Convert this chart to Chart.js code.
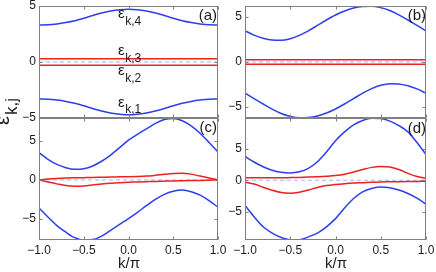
<!DOCTYPE html>
<html><head><meta charset="utf-8">
<script src="https://cdn.jsdelivr.net/npm/chart.js@4"></script>
<style>
html,body{margin:0;padding:0;background:#fff;width:436px;height:272px;overflow:hidden}
canvas{position:absolute;left:0;top:0}
</style></head>
<body>
<canvas id="ca" width="436" height="272"></canvas>
<canvas id="cb" width="436" height="272"></canvas>
<canvas id="cc" width="436" height="272"></canvas>
<canvas id="cd" width="436" height="272"></canvas>
<script>
// ---- data ----
const kValues = [-1.0,-0.9,-0.8,-0.7,-0.6,-0.5,-0.4,-0.3,-0.2,-0.1,0.0,0.1,0.2,0.3,0.4,0.5,0.6,0.7,0.8,0.9,1.0];
const xTicks = [-1,-0.5,0,0.5,1];
const xTickLabels = ['\u22121.0','\u22120.5','0.0','0.5','1.0'];
const yTicks = [-5,0,5];
const yTickLabels = ['\u22125','0','5'];
const panelLabels = ['(a)','(b)','(c)','(d)'];
const bandLabels = ['k,1','k,2','k,3','k,4'];

// panel (a)
const a_band4 = [3.3,3.32,3.4,3.52,3.68,3.9,4.15,4.38,4.55,4.67,4.72,4.67,4.55,4.38,4.15,3.9,3.68,3.52,3.4,3.32,3.3];
const a_band3 = [0.28,0.28,0.28,0.28,0.28,0.28,0.28,0.28,0.28,0.28,0.28,0.28,0.28,0.28,0.28,0.28,0.28,0.28,0.28,0.28,0.28];
const a_band2 = [-0.28,-0.28,-0.28,-0.28,-0.28,-0.28,-0.28,-0.28,-0.28,-0.28,-0.28,-0.28,-0.28,-0.28,-0.28,-0.28,-0.28,-0.28,-0.28,-0.28,-0.28];
const a_band1 = [-3.3,-3.32,-3.4,-3.52,-3.68,-3.9,-4.15,-4.38,-4.55,-4.67,-4.72,-4.67,-4.55,-4.38,-4.15,-3.9,-3.68,-3.52,-3.4,-3.32,-3.3];
// panel (b)
const b_band4 = [3.45,2.98,2.64,2.43,2.4,2.58,2.95,3.45,4.05,4.65,5.2,5.65,5.98,6.15,6.18,6.02,5.7,5.22,4.65,4.05,3.45];
const b_band3 = [0.25,0.25,0.25,0.25,0.25,0.25,0.25,0.25,0.25,0.25,0.25,0.25,0.25,0.25,0.25,0.25,0.25,0.25,0.25,0.25,0.25];
const b_band2 = [-0.25,-0.25,-0.25,-0.25,-0.25,-0.25,-0.25,-0.25,-0.25,-0.25,-0.25,-0.25,-0.25,-0.25,-0.25,-0.25,-0.25,-0.25,-0.25,-0.25,-0.25];
const b_band1 = [-3.45,-4.05,-4.65,-5.22,-5.7,-6.02,-6.18,-6.15,-5.98,-5.65,-5.2,-4.65,-4.05,-3.45,-2.95,-2.58,-2.4,-2.43,-2.64,-2.98,-3.45];
// panel (c)
const c_band4 = [3.5,2.65,2.0,1.58,1.38,1.45,1.8,2.4,3.2,4.15,5.1,5.85,6.55,7.25,7.75,7.9,7.6,6.95,6.0,4.8,3.6];
const c_band3 = [0.0,0.12,0.2,0.25,0.28,0.3,0.32,0.35,0.38,0.4,0.42,0.45,0.5,0.6,0.72,0.82,0.85,0.75,0.5,0.25,0.0];
const c_band2 = [0.0,-0.25,-0.5,-0.72,-0.8,-0.77,-0.65,-0.52,-0.42,-0.35,-0.3,-0.26,-0.22,-0.18,-0.15,-0.12,-0.1,-0.08,-0.06,-0.03,0.0];
const c_band1 = [-3.6,-4.75,-5.85,-6.7,-7.4,-7.7,-7.65,-7.2,-6.45,-5.7,-4.95,-4.15,-3.3,-2.5,-1.85,-1.45,-1.3,-1.5,-1.95,-2.65,-3.5];
// panel (d)
const d_band4 = [3.8,2.9,2.15,1.6,1.28,1.17,1.35,1.9,2.95,4.5,6.3,7.7,8.8,9.5,9.85,9.8,9.4,8.7,7.7,6.0,4.1];
const d_band3 = [0.38,0.38,0.38,0.4,0.4,0.42,0.45,0.5,0.56,0.64,0.75,0.95,1.3,1.7,2.05,2.2,2.1,1.7,1.1,0.6,0.3];
const d_band2 = [-0.3,-0.6,-1.1,-1.6,-1.95,-2.05,-1.9,-1.55,-1.15,-0.85,-0.68,-0.55,-0.45,-0.38,-0.3,-0.26,-0.24,-0.22,-0.2,-0.18,-0.16];
const d_band1 = [-4.0,-5.8,-7.4,-8.4,-9.1,-9.45,-9.45,-9.0,-8.4,-7.4,-6.1,-4.4,-2.9,-1.85,-1.3,-1.08,-1.2,-1.55,-2.1,-2.85,-3.8];

// ---- styles ----
const BLUE = 'rgb(45,62,238)';
const RED = 'rgb(238,32,32)';
const DASH = 'rgb(165,178,246)';
const FRAME = '#808080';
const TEXT = '#1a1a1a';
const FONT = "'Liberation Sans', Arial, sans-serif";
const YAXW = 30, XAXH = 20;

const panels = [
  {id:'ca', l:39, r:218, t:6, b:118, ymin:-5, ymax:5, bands:[a_band1,a_band2,a_band3,a_band4], label:0, showX:false, lx:217, ly:20},
  {id:'cb', l:245, r:426, t:6, b:118, ymin:-6.2, ymax:6.2, bands:[b_band1,b_band2,b_band3,b_band4], label:1, showX:false, lx:426, ly:20},
  {id:'cc', l:39, r:218, t:118, b:240, ymin:-7.7, ymax:7.95, bands:[c_band1,c_band2,c_band3,c_band4], label:2, showX:true, lx:217, ly:132},
  {id:'cd', l:245, r:426, t:118, b:240, ymin:-9.5, ymax:9.9, bands:[d_band1,d_band2,d_band3,d_band4], label:3, showX:true, lx:426, ly:133}
];

function toPts(arr){ return arr.map((v,i)=>({x:kValues[i], y:v})); }
function zeroPad(s){ s.paddingLeft=0; s.paddingRight=0; s.paddingTop=0; s.paddingBottom=0; }

const framePlugin = {
  id:'frame',
  afterDatasetsDraw(chart, args, opts){
    const {ctx, chartArea:a} = chart;
    const xs = chart.scales.x, ys = chart.scales.y;
    ctx.save();
    ctx.strokeStyle = FRAME; ctx.lineWidth = 1;
    const L=Math.round(a.left)+0.5, R=Math.round(a.right)-0.5, T=Math.round(a.top)+0.5, B=Math.round(a.bottom)-0.5;
    ctx.strokeRect(L, T, R-L, B-T);
    ctx.beginPath();
    xTicks.forEach(v=>{ const px=Math.round(xs.getPixelForValue(v))+0.5; ctx.moveTo(px,B); ctx.lineTo(px,B-3); ctx.moveTo(px,T); ctx.lineTo(px,T+3); });
    yTicks.forEach(v=>{ const py=Math.round(ys.getPixelForValue(v))+0.5; ctx.moveTo(L,py); ctx.lineTo(L+3,py); ctx.moveTo(R,py); ctx.lineTo(R-3,py); });
    ctx.stroke();
    const p = opts.panel;
    ctx.fillStyle = TEXT;
    ctx.font = '15px ' + FONT;
    ctx.textAlign = 'right'; ctx.textBaseline = 'alphabetic';
    ctx.fillText(panelLabels[p.label], p.lx, p.ly);
    ctx.restore();
  }
};

const textPlugin = {
  id:'texts',
  afterDraw(chart){
    const ctx = chart.ctx;
    ctx.save();
    ctx.fillStyle = TEXT;
    ctx.textAlign = 'left'; ctx.textBaseline = 'alphabetic';
    const pos = [[118,107,113],[118,75,82],[118,55,62],[118,18,25]];
    pos.forEach((p,i)=>{
      ctx.font = '15px ' + FONT;
      ctx.fillText('\u03b5', p[0], p[1]);
      const w = ctx.measureText('\u03b5').width;
      ctx.font = '12px ' + FONT;
      ctx.fillText(bandLabels[i], p[0]+w+0.5, p[2]);
    });
    ctx.font = '15px ' + FONT;
    ctx.textAlign = 'center';
    ctx.fillText('k/\u03c0', 129, 268);
    ctx.fillText('k/\u03c0', 336, 268);
    ctx.translate(9, 125);
    ctx.rotate(-Math.PI/2);
    ctx.textAlign = 'left';
    ctx.font = '20px ' + FONT;
    ctx.fillText('\u03b5', 0, 0);
    const w2 = ctx.measureText('\u03b5').width;
    ctx.font = '17px ' + FONT;
    ctx.fillText('k,j', w2+1, 8);
    ctx.restore();
  }
};

panels.forEach(p=>{
  const ds = [];
  p.bands.forEach((arr,i)=>{
    const isRed = (i===1 || i===2);
    ds.push({data:toPts(arr), borderColor:isRed?RED:BLUE, borderWidth:1.5, pointRadius:0, fill:false, cubicInterpolationMode:'monotone'});
  });
  ds.push({data:[{x:-1,y:0},{x:1,y:0}], borderColor:DASH, borderWidth:1, borderDash:[4,3], pointRadius:0, fill:false});
  const plugins = [framePlugin];
  if (p.id==='ca') plugins.push(textPlugin);
  const xh = p.showX ? XAXH : 0;
  new Chart(document.getElementById(p.id), {
    type:'line',
    data:{datasets:ds},
    options:{
      responsive:false, animation:false, devicePixelRatio:1,
      events:[],
      layout:{padding:{left:p.l-YAXW, right:436-p.r, top:p.t, bottom:272-p.b-xh}},
      plugins:{legend:{display:false}, tooltip:{enabled:false}, frame:{panel:p}},
      scales:{
        x:{type:'linear', min:-1, max:1,
           grid:{display:false, drawTicks:false}, border:{display:false},
           afterBuildTicks:s=>{ s.ticks = xTicks.map(v=>({value:v})); },
           afterFit:s=>{ s.height=xh; zeroPad(s); },
           ticks:{display:p.showX, autoSkip:false, maxRotation:0, padding:3, color:TEXT,
                  font:{family:FONT, size:12},
                  callback:(v)=>xTickLabels[xTicks.indexOf(v)]}},
        y:{type:'linear', min:p.ymin, max:p.ymax,
           grid:{display:false, drawTicks:false}, border:{display:false},
           afterBuildTicks:s=>{ s.ticks = yTicks.map(v=>({value:v})); },
           afterFit:s=>{ s.width=YAXW; zeroPad(s); },
           ticks:{autoSkip:false, padding:3, color:TEXT,
                  font:{family:FONT, size:12},
                  callback:(v)=>yTickLabels[yTicks.indexOf(v)]}}
      }
    },
    plugins:plugins
  });
});
</script>
</body></html>
